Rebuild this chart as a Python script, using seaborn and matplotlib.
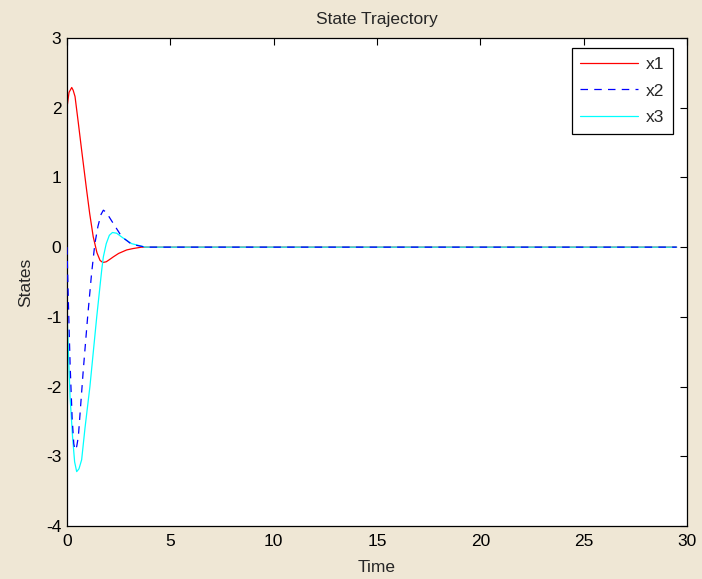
import matplotlib
matplotlib.use("Agg")
import matplotlib.pyplot as plt
import seaborn as sns
import pandas as pd

# Data
t_x1 = [0.0, 0.1, 0.23, 0.3, 0.39, 0.55, 0.71, 0.95, 1.1, 1.27, 1.45, 1.6, 1.73, 1.9, 2.05, 2.24, 2.5, 2.89, 3.2, 3.61, 29.5]
v_x1 = [2.0, 2.22, 2.29, 2.25, 2.16, 1.78, 1.39, 0.82, 0.48, 0.15, -0.08, -0.19, -0.22, -0.21, -0.18, -0.14, -0.09, -0.04, -0.02, 0.0, 0.0]

t_x2 = [0.0, 0.07, 0.15, 0.25, 0.33, 0.39, 0.47, 0.55, 0.79, 1.0, 1.19, 1.35, 1.5, 1.65, 1.76, 1.9, 2.24, 2.65, 3.13, 3.8, 29.5]
v_x2 = [0.0, -0.8, -1.67, -2.45, -2.82, -2.91, -2.86, -2.72, -1.76, -1.0, -0.38, 0.05, 0.3, 0.47, 0.53, 0.5, 0.34, 0.15, 0.04, 0.0, 0.0]

t_x3 = [0.0, 0.07, 0.15, 0.27, 0.37, 0.47, 0.58, 0.71, 0.87, 1.11, 1.44, 1.68, 1.76, 1.9, 2.05, 2.2, 2.4, 2.72, 3.13, 3.8, 29.5]
v_x3 = [-0.9, -1.5, -2.15, -2.72, -3.08, -3.22, -3.18, -3.05, -2.6, -2.0, -1.0, -0.33, -0.14, 0.05, 0.17, 0.21, 0.2, 0.13, 0.05, 0.0, 0.0]

series_names = ["x1", "x2", "x3"]
x_ticks = [0, 5, 10, 15, 20, 25, 30]
y_ticks = [-4, -3, -2, -1, 0, 1, 2, 3]

sns.set_style("white")
plt.rcParams['font.family'] = ['Liberation Sans', 'DejaVu Sans']

FS = 12.5

fig = plt.figure(figsize=(7.02, 5.79), dpi=100)
fig.patch.set_facecolor('#efe7d5')
ax = fig.add_axes([0.0954, 0.0915, 0.8832, 0.8429])
ax.set_facecolor('white')

df1 = pd.DataFrame({"t": t_x1, "v": v_x1})
df2 = pd.DataFrame({"t": t_x2, "v": v_x2})
df3 = pd.DataFrame({"t": t_x3, "v": v_x3})

sns.lineplot(data=df1, x="t", y="v", ax=ax, color='#ff0000', lw=0.9, label=series_names[0])
sns.lineplot(data=df2, x="t", y="v", ax=ax, color='#0000ff', lw=0.9, label=series_names[1])
sns.lineplot(data=df3, x="t", y="v", ax=ax, color='#00ffff', lw=0.9, label=series_names[2])
ax.lines[1].set_linestyle((0, (6, 5)))
ax.lines[1].set_zorder(3)

ax.set_xlim(0, 30)
ax.set_ylim(-4, 3)
ax.set_xticks(x_ticks)
ax.set_yticks(y_ticks)
ax.set_xticklabels([str(v) for v in x_ticks])
ax.set_yticklabels([str(v) for v in y_ticks])
ax.tick_params(direction='in', length=5, width=0.8, top=True, right=True,
               labelsize=FS, colors='black', pad=4)
ax.tick_params(axis='x', pad=6)
for s in ax.spines.values():
    s.set_color('black')
    s.set_linewidth(0.9)

ax.set_xlabel("Time", fontsize=FS, labelpad=8)
ax.set_ylabel("States", fontsize=FS, labelpad=9)
ax.set_title("State Trajectory", fontsize=FS, pad=10)

leg = ax.legend(loc='upper right', bbox_to_anchor=(0.977, 0.98), borderaxespad=0,
                fontsize=FS, handlelength=3.3, labelspacing=0.68, frameon=True,
                fancybox=False, edgecolor='black', framealpha=1, borderpad=0.5,
                handletextpad=0.45)
leg.get_frame().set_linewidth(0.9)
leg.get_lines()[1].set_linestyle((0, (6, 5)))

fig.savefig("out.png", dpi=100, facecolor=fig.get_facecolor())
